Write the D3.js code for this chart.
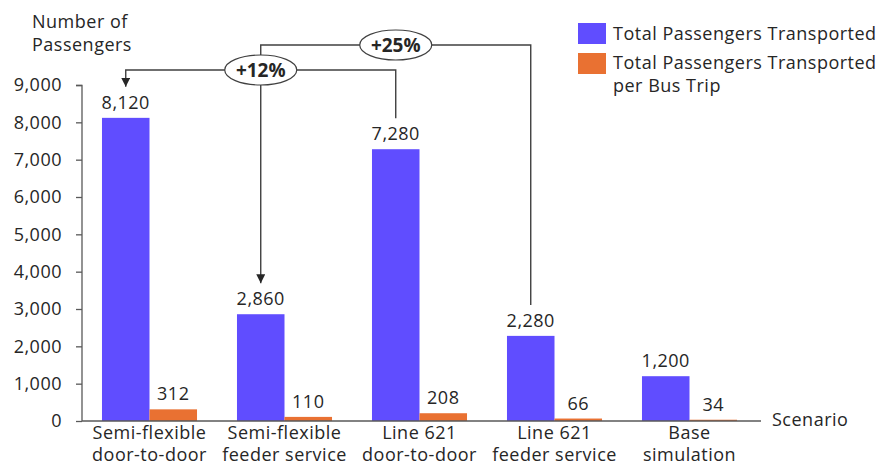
<!DOCTYPE html>
<html>
<head>
<meta charset="utf-8">
<script src="https://cdn.jsdelivr.net/npm/d3@7"></script>
<style>
  body { margin: 0; background: #fff; }
  text { font-family: "Open Sans", sans-serif; fill: #262626; letter-spacing: 0.5px; }
</style>
</head>
<body>
<script>
//Width and height
var w = 877;
var h = 467;

//Data
var categories = [
  ["Semi-flexible", "door-to-door"],
  ["Semi-flexible", "feeder service"],
  ["Line 621", "door-to-door"],
  ["Line 621", "feeder service"],
  ["Base", "simulation"]
];
var seriesNames = ["Total Passengers Transported", "Total Passengers Transported per Bus Trip"];
var totalPassengers = [8120, 2860, 7280, 2280, 1200];
var perBusTrip = [312, 110, 208, 66, 34];
var yTicks = [0, 1000, 2000, 3000, 4000, 5000, 6000, 7000, 8000, 9000];
var colors = ["#604dff", "#e97132"];

//Comparison brackets: from category index -> to category index
var comparisons = [
  { label: "+12%", from: 2, to: 0, level: 70 },
  { label: "+25%", from: 3, to: 1, level: 45 }
];

var fmt = d3.format(",");

var svg = d3.select("body").append("svg").attr("width", w).attr("height", h);

//Scales
var xScale = d3.scaleBand()
  .domain(d3.range(categories.length))
  .range([82, 757])
  .paddingInner(0.296)
  .paddingOuter(0.148);

var xSub = d3.scaleBand()
  .domain([0, 1])
  .range([0, xScale.bandwidth()]);

var yScale = d3.scaleLinear().domain([0, 9000]).range([421, 85]);

//Y axis
var yAxis = d3.axisLeft(yScale)
  .tickValues(yTicks)
  .tickFormat(fmt)
  .tickSize(6)
  .tickPadding(14);

var gy = svg.append("g")
  .attr("transform", "translate(82,0)")
  .call(yAxis);
gy.select(".domain").attr("stroke", "#595959").attr("stroke-width", 1.3).attr("d", "M-6,85.5H0V421");
gy.selectAll(".tick line").attr("stroke", "#595959").attr("stroke-width", 1.3);
gy.selectAll(".tick text").style("font-size", "18px").attr("fill", "#262626");

//Bars
var rows = categories.map(function (c, i) {
  return [totalPassengers[i], perBusTrip[i]];
});

var groups = svg.selectAll(".group")
  .data(rows)
  .enter()
  .append("g")
  .attr("class", "group")
  .attr("transform", function (d, i) {
    return "translate(" + xScale(i) + ",0)";
  });

groups.selectAll("rect")
  .data(function (d) { return d; })
  .enter()
  .append("rect")
  .attr("x", function (d, j) { return xSub(j); })
  .attr("width", xSub.bandwidth())
  .attr("y", function (d) { return yScale(d); })
  .attr("height", function (d) { return yScale(0) - yScale(d); })
  .attr("fill", function (d, j) { return colors[j]; });

groups.selectAll(".val")
  .data(function (d) { return d; })
  .enter()
  .append("text")
  .attr("class", "val")
  .attr("x", function (d, j) { return xSub(j) + xSub.bandwidth() / 2; })
  .attr("y", function (d) { return yScale(d) - 9; })
  .attr("text-anchor", "middle")
  .style("font-size", "18px")
  .text(function (d) { return fmt(d); });

//X axis line
svg.append("line")
  .attr("x1", 82).attr("x2", 761)
  .attr("y1", yScale(0)).attr("y2", yScale(0))
  .attr("stroke", "#595959").attr("stroke-width", 1.3);

//Category labels, one text per line
svg.selectAll(".cat")
  .data(d3.merge(categories.map(function (c, i) {
    return c.map(function (t, k) { return { i: i, k: k, t: t }; });
  })))
  .enter()
  .append("text")
  .attr("class", "cat")
  .attr("text-anchor", "middle")
  .attr("x", function (d) { return xScale(d.i) + xScale.bandwidth() / 2; })
  .attr("y", function (d) { return 439 + d.k * 22; })
  .style("font-size", "18px")
  .text(function (d) { return d.t; });

//Axis titles
svg.append("text").attr("x", 772).attr("y", 426).style("font-size", "18px").text("Scenario");
svg.append("text").attr("x", 32).attr("y", 28).style("font-size", "18px").text("Number of");
svg.append("text").attr("x", 32).attr("y", 51).style("font-size", "18px").text("Passengers");

//Legend
var legend = svg.append("g").attr("transform", "translate(578,23)");
legend.append("rect").attr("width", 28).attr("height", 21).attr("fill", colors[0]);
legend.append("text").attr("x", 35).attr("y", 17).style("font-size", "18px").text(seriesNames[0]);
legend.append("rect").attr("y", 30).attr("width", 28).attr("height", 21).attr("fill", colors[1]);
legend.append("text").attr("x", 35).attr("y", 46).style("font-size", "18px").text("Total Passengers Transported");
legend.append("text").attr("x", 35).attr("y", 69).style("font-size", "18px").text("per Bus Trip");

//Arrow marker
svg.append("defs").append("marker")
  .attr("id", "arrow")
  .attr("viewBox", "0 0 10 10")
  .attr("refX", 10).attr("refY", 5)
  .attr("markerWidth", 9).attr("markerHeight", 9)
  .attr("markerUnits", "userSpaceOnUse")
  .attr("orient", "auto")
  .append("path")
  .attr("d", "M0,0L10,5L0,10Z")
  .attr("fill", "#262626");

//Comparison brackets
function barCenter(i) {
  return xScale(i) + xSub(0) + xSub.bandwidth() / 2;
}
function endY(i) {
  return yScale(totalPassengers[i]) - 31;
}

comparisons.forEach(function (c) {
  var x1 = barCenter(c.from);
  var x2 = barCenter(c.to);
  svg.append("path")
    .attr("d", "M" + x1 + "," + endY(c.from) + "V" + c.level + "H" + x2 + "V" + endY(c.to))
    .attr("fill", "none")
    .attr("stroke", "#404040")
    .attr("stroke-width", 1.4)
    .attr("marker-end", "url(#arrow)");
});

//Bubbles on the brackets
var bubbles = [
  { label: comparisons[0].label, x: barCenter(1), y: comparisons[0].level },
  { label: comparisons[1].label, x: barCenter(2), y: comparisons[1].level }
];
bubbles.forEach(function (b) {
  svg.append("ellipse")
    .attr("cx", b.x).attr("cy", b.y)
    .attr("rx", 36).attr("ry", 15)
    .attr("fill", "#fff")
    .attr("stroke", "#404040")
    .attr("stroke-width", 1.2);
  svg.append("text")
    .attr("x", b.x).attr("y", b.y + 7)
    .attr("text-anchor", "middle")
    .style("font-size", "19px")
    .style("font-weight", "bold")
    .style("letter-spacing", "0px")
    .attr("fill", "#111")
    .text(b.label);
});
</script>
</body>
</html>
